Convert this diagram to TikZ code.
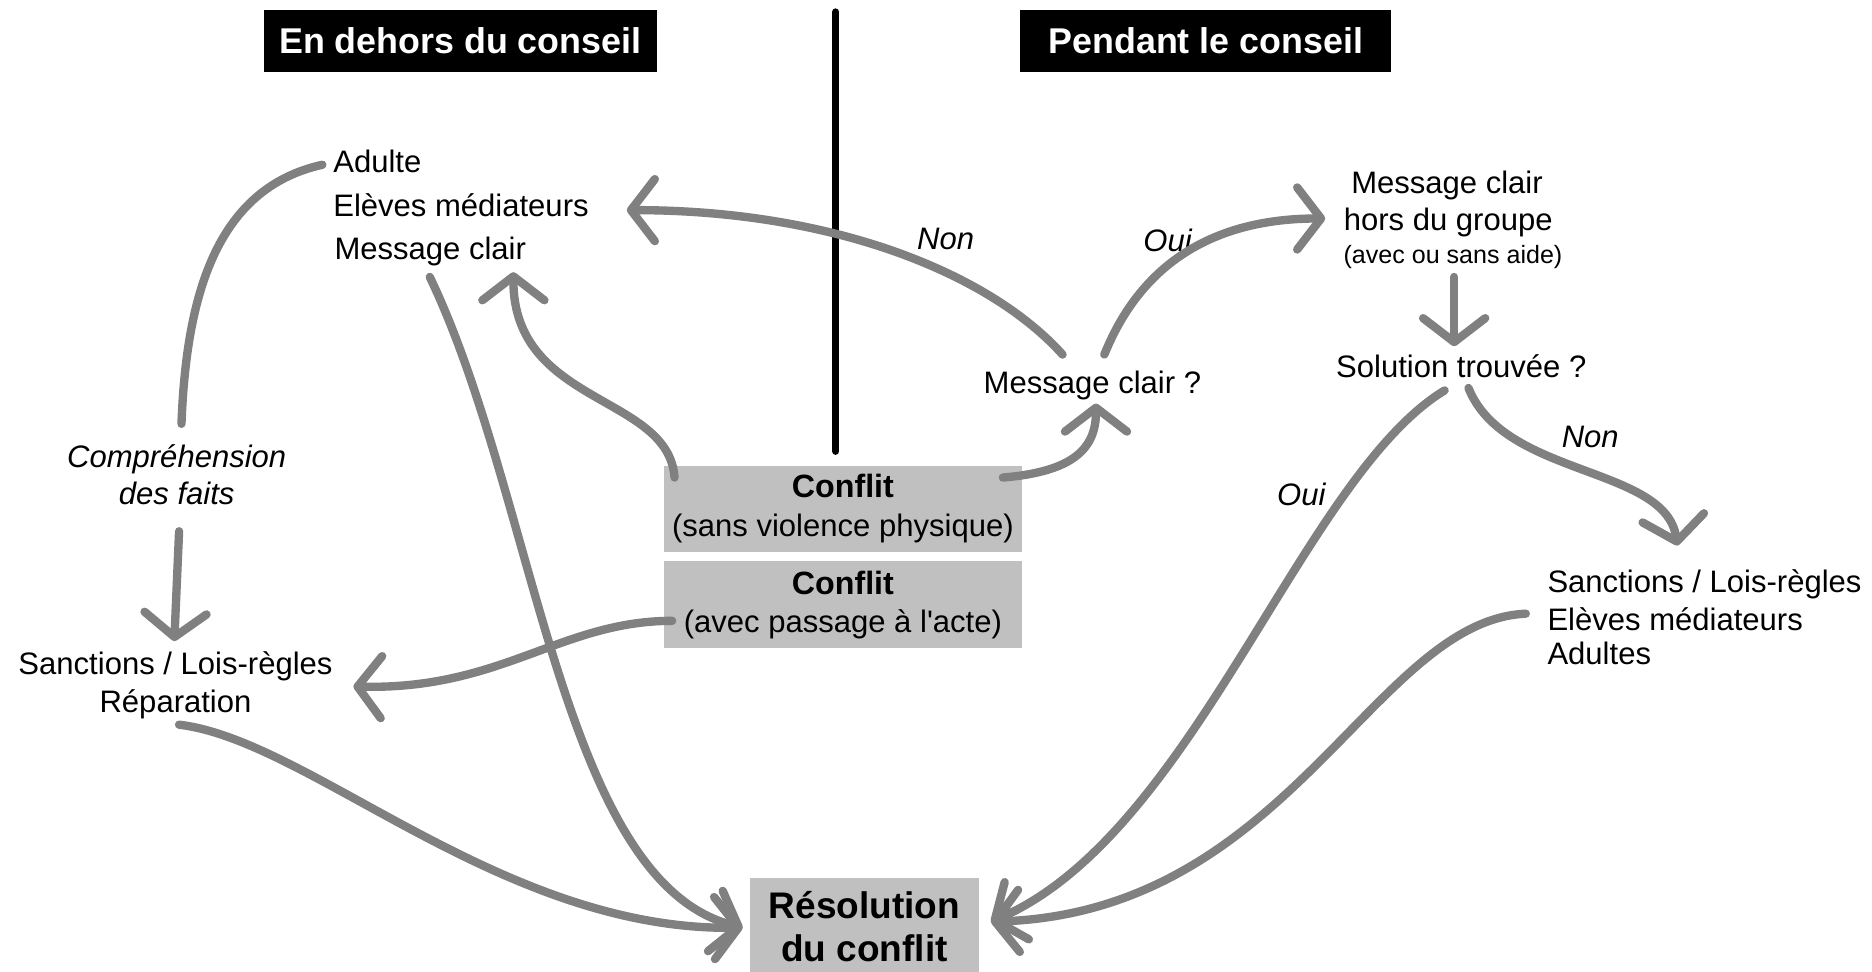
\documentclass[tikz,border=0pt]{standalone}
\usepackage{fontspec}
\setmainfont{Liberation Sans}[Ligatures=TeXOff]
\usetikzlibrary{arrows.meta,calc}
\definecolor{boxgray}{RGB}{192,192,192}
\definecolor{linegray}{RGB}{128,128,128}
\begin{document}
\begin{tikzpicture}[x=1pt,y=-1pt,
  txt/.style={inner sep=0pt, font=\fontsize{26}{31}\selectfont},
  small/.style={inner sep=0pt, font=\fontsize{21}{25}\selectfont},
  lbl/.style={inner sep=0pt, font=\fontsize{26}{31}\selectfont\itshape, align=center},
  hdr/.style={fill=black, text=white, font=\fontsize{30}{34}\selectfont\bfseries, minimum height=52pt, inner sep=0pt},
  cbox/.style={fill=boxgray, minimum width=300pt, inner sep=0pt, align=center, font=\fontsize{26}{32}\selectfont},
  conn/.style={draw=linegray, line width=7pt, line cap=round, line join=round},
  arr/.style={conn, -{Straight Barb[length=20pt,width=52pt,round]}}
]
\useasboundingbox (0,0) rectangle (1568,814);

% headers and divider
\node[hdr, minimum width=329pt] (h1) at (385.5,34) {En dehors du conseil};
\node[hdr, minimum width=311pt] (h2) at (1010,34) {Pendant le conseil};
\coordinate (divtop) at (700,10);
\coordinate (divbot) at (700,378);
\draw[line width=6pt, line cap=round] (divtop) -- (divbot);

% boxes
\node[cbox, minimum height=72pt] (c1) at (706,426) {{\fontsize{27}{32}\selectfont\bfseries Conflit}\\(sans violence physique)};
\node[cbox, minimum height=73pt] (c2) at (706,506.5) {{\fontsize{27}{32}\selectfont\bfseries Conflit}\\(avec passage à l'acte)};
\node[fill=boxgray, minimum width=192pt, minimum height=82pt, inner sep=0pt, align=center,
      font=\fontsize{31}{36}\selectfont\bfseries] (res) at (724,776) {Résolution\\du conflit};

% left side texts
\node[txt, anchor=west] (adulte) at (279,135) {Adulte};
\node[txt, anchor=west] (eleves) at (279,172) {Elèves médiateurs};
\node[txt, anchor=west] (msgL) at (280,211) {Message clair};
\node[lbl] (compr) at (148,398) {Compréhension\\des faits};
\node[txt, align=center] (sancL) at (147,574) {Sanctions / Lois-règles\\Réparation};

% right side texts
\node[lbl] (non1) at (792,200) {Non};
\node[lbl] (oui1) at (978,201) {Oui};
\node[txt] (mcq) at (915,323) {Message clair ?};
\node[txt] (mhg1) at (1212,155) {Message clair};
\node[txt] (mhg2) at (1213,186) {hors du groupe};
\node[small] (mhg3) at (1217,215) {(avec ou sans aide)};
\node[txt] (sol) at (1224,307) {Solution trouvée ?};
\node[lbl] (non2) at (1332,366) {Non};
\node[lbl] (oui2) at (1090,414) {Oui};
\node[txt, anchor=west] (sR1) at (1296,489) {Sanctions / Lois-règles};
\node[txt, anchor=west] (sR2) at (1296,519) {Elèves médiateurs};
\node[txt, anchor=west] (sR3) at (1296,547) {Adultes};

% connectors left
\draw[conn] ($(adulte.west)+(-9,3)$) .. controls (180,158) and (156,250) .. ($(compr)+(4,-43)$);
\draw[arr] ($(compr)+(2,47)$) -- ($(sancL)+(-1,-37)$);
\draw[arr] ($(msgL.west)+(80,21)$) .. controls (450,420) and (470,740) .. ($(res)+(-102,1)$);
\draw[arr] ($(c1)+(-141,-26)$) .. controls (560,330) and (430,340) .. ($(msgL.west)+(150,17)$);
\draw[arr] ($(c2)+(-143,13.5)$) .. controls (470,520) and (420,578) .. ($(sancL)+(149,1)$);
\draw[arr] ($(sancL)+(3,33)$) .. controls (260,620) and (420,780) .. ($(res)+(-102,1)$);

% connectors right
\draw[arr] ($(c1)+(134,-26)$) .. controls (900,395) and (918,375) .. ($(mcq)+(3,15)$);
\draw[arr] ($(mcq)+(-25,-26)$) .. controls (830,230) and (700,176) .. ($(eleves.west)+(246,4)$);
\draw[arr] ($(mcq)+(10,-26)$) .. controls (960,210) and (1030,183) .. ($(mhg2)+(-103,-3)$);
\draw[arr] ($(mhg3)+(1,17)$) -- ($(sol)+(-6,-17)$);
\draw[arr] ($(sol)+(6,18)$) .. controls (1260,400) and (1395,390) .. ($(sR1.west)+(109,-32)$);
\draw[arr] ($(sol)+(-14,20)$) .. controls (1090,400) and (1000,700) .. ($(res)+(106,-4)$);
\draw[arr] ($(sR2.west)+(-18,-5)$) .. controls (1150,520) and (1080,765) .. ($(res)+(106,-4)$);
\end{tikzpicture}
\end{document}
